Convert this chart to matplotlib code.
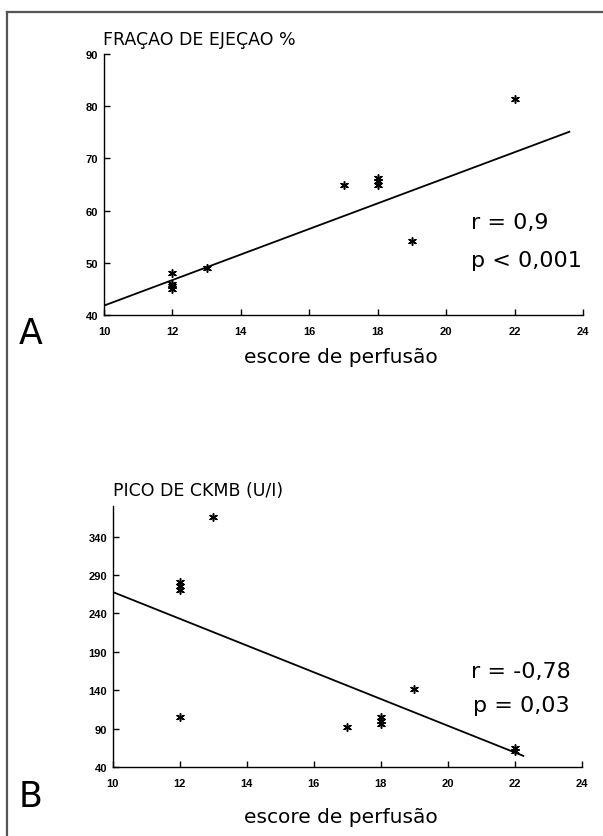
import matplotlib
matplotlib.use("Agg")
import matplotlib.pyplot as plt
from matplotlib.lines import Line2D

# ---- data ----
xa = [12, 12, 12, 12, 13, 17, 18, 18, 18, 19, 22]
ya = [48, 46, 45.5, 45, 49, 65, 66.2, 65.6, 65, 54.1, 81.3]
line_a_x = [10, 23.6]
line_a_y = [41.8, 75.1]

xb = [12, 12, 12, 12, 13, 17, 18, 18, 18, 19, 22, 22]
yb = [281, 276, 271, 104.5, 365.5, 91.5, 105.5, 100.5, 96, 141, 65, 61]
line_b_x = [10, 22.25]
line_b_y = [268, 54.5]

xticks = [10, 12, 14, 16, 18, 20, 22, 24]
yticks_a = [40, 50, 60, 70, 80, 90]
yticks_b = [40, 90, 140, 190, 240, 290, 340]

title_a = "FRAÇAO DE EJEÇAO %"
title_b = "PICO DE CKMB (U/I)"
xlabel = "escore de perfusão"
stats_a = ["r = 0,9", "p < 0,001"]
stats_b = ["r = -0,78", "p = 0,03"]

W, H = 603, 837
fig = plt.figure(figsize=(W / 100, H / 100), dpi=100)
TICKFONT = "Liberation Sans"
TXT = "DejaVu Sans"


def px(x, y):
    return x / W, 1 - y / H


def rect(l, t, r, b):
    return [l / W, 1 - b / H, (r - l) / W, (b - t) / H]


# outer border (only top and left visible)
fig.add_artist(Line2D([7 / W, 1.0], [1 - 12.5 / H] * 2, color="#555555", lw=1.6,
                      transform=fig.transFigure))
fig.add_artist(Line2D([7 / W] * 2, [0, 1 - 12.5 / H], color="#555555", lw=1.6,
                      transform=fig.transFigure))


def style(ax, yticks, ylim):
    ax.set_xlim(10, 24)
    ax.set_ylim(*ylim)
    for s in ("top", "right"):
        ax.spines[s].set_visible(False)
    for s in ("left", "bottom"):
        ax.spines[s].set_linewidth(1.0)
    ax.set_xticks(xticks)
    ax.set_yticks(yticks)
    ax.tick_params(direction="in", length=4, width=1)
    for lab in ax.get_xticklabels() + ax.get_yticklabels():
        lab.set_fontfamily(TICKFONT)
        lab.set_fontweight("bold")
        lab.set_fontsize(8)
    ax.tick_params(axis="x", pad=8)
    ax.tick_params(axis="y", pad=4)


mk = dict(marker=(6, 2, 0), s=30, color="black", linewidths=1.1, zorder=3)

# ---- panel A ----
axa = fig.add_axes(rect(104, 55, 583, 316))
axa.plot(line_a_x, line_a_y, color="black", lw=1.3)
axa.scatter(xa, ya, **mk)
style(axa, yticks_a, (40, 90))

# ---- panel B ----
axb = fig.add_axes(rect(112.7, 507, 582, 768))
axb.plot(line_b_x, line_b_y, color="black", lw=1.3)
axb.scatter(xb, yb, **mk)
style(axb, yticks_b, (40, 380))

# ---- texts ----
fig.text(*px(103, 40), title_a, fontsize=12.5, family=TXT, va="center", ha="left")
fig.text(*px(113, 491), title_b, fontsize=12.5, family=TXT, va="center", ha="left")
fig.text(*px(19, 334), "A", fontsize=25, family=TXT, va="center", ha="left")
fig.text(*px(19, 797), "B", fontsize=25, family=TXT, va="center", ha="left")
fig.text(*px(341, 358), xlabel, fontsize=14.5, family=TXT, va="center", ha="center")
fig.text(*px(341, 818), xlabel, fontsize=14.5, family=TXT, va="center", ha="center")

fig.text(*px(471, 223), stats_a[0], fontsize=16, family=TXT, va="center", ha="left")
fig.text(*px(471, 261), stats_a[1], fontsize=16, family=TXT, va="center", ha="left")
fig.text(*px(471, 672), stats_b[0], fontsize=16, family=TXT, va="center", ha="left")
fig.text(*px(473, 706), stats_b[1], fontsize=16, family=TXT, va="center", ha="left")

fig.savefig("out.png", dpi=100, facecolor="white")
